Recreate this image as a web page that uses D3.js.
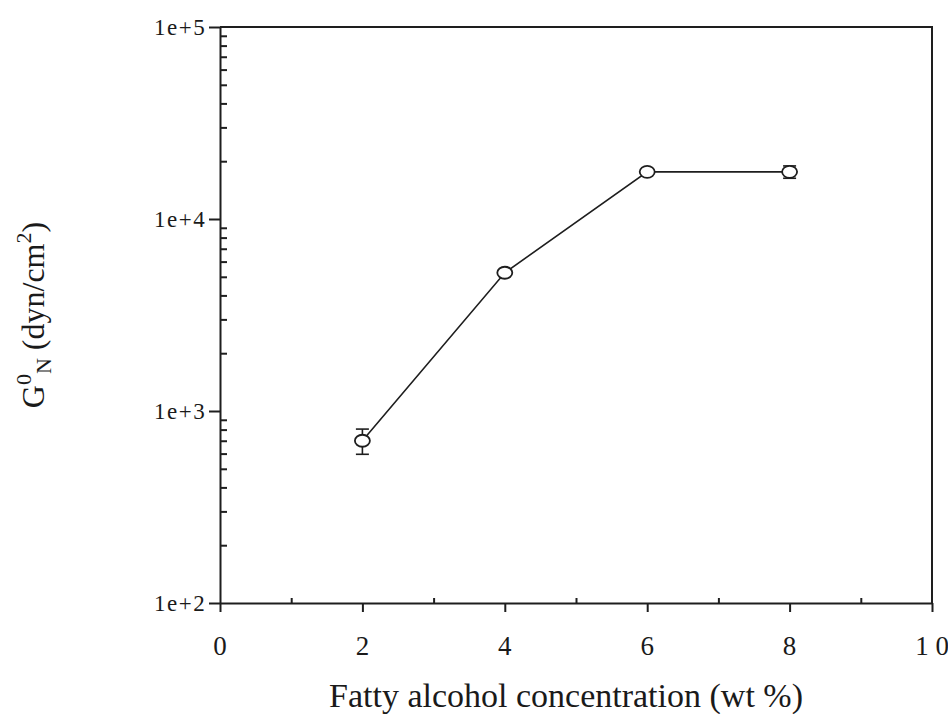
<!DOCTYPE html>
<html>
<head>
<meta charset="utf-8">
<script src="https://cdn.jsdelivr.net/npm/d3@7"></script>
<style>
  html, body { margin: 0; padding: 0; background: #fff; }
  svg { display: block; }
  text { font-family: "Liberation Serif", "DejaVu Serif", serif; fill: #1a1a1a; }
</style>
</head>
<body>
<svg id="chart" width="948" height="714"></svg>
<script>
// Plateau modulus vs. fatty alcohol concentration
const concentration = [2, 4, 6, 8];          // wt %
const modulus       = [700, 5250, 17600, 17600]; // dyn/cm^2
const modulusError  = [105, 0, 0, 1300];

const xMajorTicks = [0, 2, 4, 6, 8, 10];
const xMinorTicks = [1, 3, 5, 7, 9];
const xTickLabels = ["0", "2", "4", "6", "8", "1 0"];
const yMajorTicks = [1e2, 1e3, 1e4, 1e5];
const yTickLabels = ["1e+2", "1e+3", "1e+4", "1e+5"];

const svg = d3.select("#chart");
const plotL = 220, plotT = 27, plotR = 932, plotB = 603;
const ink = "#1e1e1e";

const x = d3.scaleLinear().domain([0, 10]).range([plotL, plotR]);
const y = d3.scaleLog().domain([1e2, 1e5]).range([plotB, plotT]);

// minor log ticks 2..9 in each decade
const yMinorTicks = [];
[1e2, 1e3, 1e4].forEach(d => { for (let k = 2; k <= 9; k++) yMinorTicks.push(d * k); });

// frame (top and right sides)
svg.append("path")
  .attr("d", `M${plotL},${plotT}H${plotR}V${plotB}`)
  .attr("fill", "none").attr("stroke", ink).attr("stroke-width", 2);

// y axis: major ticks outward, minor ticks inward
const gy = svg.append("g").attr("transform", `translate(${plotL},0)`);
gy.call(d3.axisLeft(y).tickValues(yMajorTicks).tickSize(11).tickSizeOuter(0).tickFormat(""));
gy.append("g").call(d3.axisRight(y).tickValues(yMinorTicks).tickSize(7).tickFormat(""))
  .select(".domain").remove();
gy.selectAll("path,line").attr("stroke", ink).attr("stroke-width", 2);

// x axis: major ticks outward, minor ticks inward
const gx = svg.append("g").attr("transform", `translate(0,${plotB})`);
gx.call(d3.axisBottom(x).tickValues(xMajorTicks).tickSize(9).tickSizeOuter(0).tickFormat(""));
gx.append("g").call(d3.axisTop(x).tickValues(xMinorTicks).tickSize(5).tickFormat(""))
  .select(".domain").remove();
gx.selectAll("path,line").attr("stroke", ink).attr("stroke-width", 2);

// tick labels
svg.append("g").selectAll("text").data(xMajorTicks).join("text")
  .attr("x", d => x(d)).attr("y", plotB + 52)
  .attr("text-anchor", "middle").attr("font-size", 27)
  .text((d, i) => xTickLabels[i]);

svg.append("g").selectAll("text").data(yMajorTicks).join("text")
  .attr("x", plotL - 66).attr("y", d => y(d) + 8)
  .attr("font-size", 23)
  .attr("letter-spacing", 1.5)
  .text((d, i) => yTickLabels[i]);

// axis titles
svg.append("text")
  .attr("x", 566).attr("y", 707)
  .attr("text-anchor", "middle").attr("font-size", 34)
  .text("Fatty alcohol concentration (wt %)");

const yTitle = svg.append("text")
  .attr("transform", "translate(44,315) rotate(-90)")
  .attr("text-anchor", "middle").attr("font-size", 32);
yTitle.append("tspan").text("G");
yTitle.append("tspan").attr("font-size", 22).attr("dy", -13).text("0");
yTitle.append("tspan").attr("font-size", 22).attr("dy", 20).text("N");
yTitle.append("tspan").attr("dy", -7).text(" (dyn/cm");
yTitle.append("tspan").attr("font-size", 22).attr("dy", -13).text("2");
yTitle.append("tspan").attr("dy", 13).text(")");

// data
const pts = concentration.map((c, i) => ({ c, v: modulus[i], e: modulusError[i] }));

svg.append("path").datum(pts)
  .attr("fill", "none").attr("stroke", ink).attr("stroke-width", 1.6)
  .attr("d", d3.line().x(d => x(d.c)).y(d => y(d.v)));

const eb = svg.append("g").attr("stroke", ink).attr("stroke-width", 1.6);
pts.filter(d => d.e > 0).forEach(d => {
  const cx = x(d.c), y1 = y(d.v + d.e), y0 = y(d.v - d.e);
  eb.append("line").attr("x1", cx).attr("x2", cx).attr("y1", y1).attr("y2", y0);
  eb.append("line").attr("x1", cx - 6.5).attr("x2", cx + 6.5).attr("y1", y1).attr("y2", y1);
  eb.append("line").attr("x1", cx - 6.5).attr("x2", cx + 6.5).attr("y1", y0).attr("y2", y0);
});

svg.append("g").selectAll("ellipse").data(pts).join("ellipse")
  .attr("cx", d => x(d.c)).attr("cy", d => y(d.v))
  .attr("rx", 7.5).attr("ry", 6)
  .attr("fill", "#fff").attr("stroke", ink).attr("stroke-width", 1.8);
</script>
</body>
</html>
